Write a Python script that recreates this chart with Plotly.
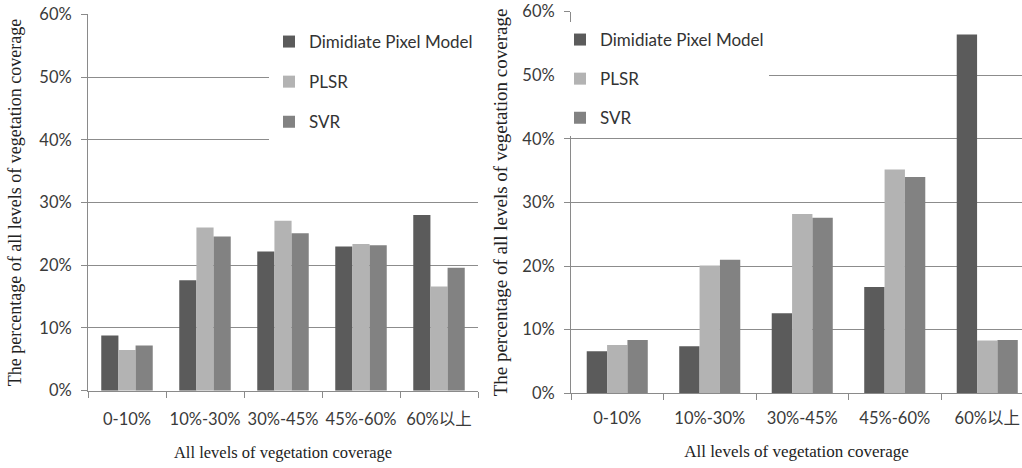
import plotly.graph_objects as go

# Vegetation coverage classes
categories = ["0-10%", "10%-30%", "30%-45%", "45%-60%", "60%以上"]

# Share of each coverage class (%), left panel
left_dimidiate = [8.8, 17.6, 22.2, 23.0, 28.0]
left_plsr = [6.5, 26.0, 27.1, 23.4, 16.6]
left_svr = [7.2, 24.6, 25.1, 23.2, 19.6]

# Share of each coverage class (%), right panel
right_dimidiate = [6.6, 7.4, 12.6, 16.7, 56.4]
right_plsr = [7.6, 20.1, 28.2, 35.2, 8.3]
right_svr = [8.4, 21.0, 27.6, 34.0, 8.4]

series_names = ["Dimidiate Pixel Model", "PLSR", "SVR"]
series_colors = ["#5b5b5b", "#b3b3b3", "#828282"]

y_ticks = [0, 10, 20, 30, 40, 50, 60]
y_tick_labels = ["0%", "10%", "20%", "30%", "40%", "50%", "60%"]

W, H = 1022, 468
SANS = "Lato, 'Noto Sans CJK SC', sans-serif"
SERIF = "'Liberation Serif', 'Times New Roman', serif"

fig = go.Figure()

for name, color, vals in zip(series_names, series_colors,
                             [left_dimidiate, left_plsr, left_svr]):
    fig.add_trace(go.Bar(x=categories, y=vals, name=name, marker_color=color,
                         marker_line_width=0, xaxis="x", yaxis="y",
                         legend="legend", legendgroup="L" + name))

for name, color, vals in zip(series_names, series_colors,
                             [right_dimidiate, right_plsr, right_svr]):
    fig.add_trace(go.Bar(x=categories, y=vals, name=name, marker_color=color,
                         marker_line_width=0, xaxis="x2", yaxis="y2",
                         legend="legend2", legendgroup="R" + name))

axis_common = dict(
    showline=True, linecolor="#8a8a8a", linewidth=1, automargin=False,
    ticks="outside", ticklen=6, tickcolor="#8a8a8a",
    tickfont=dict(family=SANS, size=16.5, color="#3a3a3a"),
)

x_common = dict(
    axis_common, type="category", tickson="boundaries",
    showgrid=False, ticklabelstandoff=10, tickangle=0,
    title_text="All levels of vegetation coverage", title_standoff=18,
)

y_common = dict(
    axis_common, range=[0, 60], tickmode="array", tickvals=y_ticks,
    ticktext=y_tick_labels,
    showgrid=True, gridcolor="#8c8c8c", gridwidth=1, zeroline=False,
    ticklabelstandoff=6,
    title_text="The percentage of all levels of vegetation coverage",
)

# Right panel's category axis runs off the page edge
right_cat_width = 92.5
right_left_px = 571

legend_font = dict(family=SANS, size=17, color="#333333")

fig.update_layout(
    width=W, height=H,
    margin=dict(l=0, r=0, t=0, b=0, autoexpand=False),
    paper_bgcolor="white", plot_bgcolor="white",
    barmode="group", bargap=0.34, bargroupgap=0,
    showlegend=True,
    xaxis=dict(x_common, domain=[88 / W, 478 / W], anchor="y",
               range=[-0.5, 4.5], ticklabelstandoff=13,
               title_font=dict(family=SERIF, size=16.5, color="#222222")),
    yaxis=dict(y_common, domain=[(H - 390.7) / H, (H - 14.3) / H],
               anchor="x", title_standoff=13,
               title_font=dict(family=SERIF, size=18, color="#222222")),
    xaxis2=dict(x_common, domain=[right_left_px / W, 1.0], anchor="y2",
                range=[-0.5, -0.5 + (W - right_left_px) / right_cat_width],
                title_font=dict(family=SERIF, size=17, color="#222222")),
    yaxis2=dict(y_common, domain=[(H - 393.3) / H, (H - 11.7) / H],
                anchor="x2", title_standoff=9,
                title_font=dict(family=SERIF, size=19, color="#222222")),
    legend=dict(x=269 / W, xanchor="left", y=(H - 24) / H, yanchor="top",
                bgcolor="white", tracegroupgap=15, font=legend_font,
                traceorder="grouped"),
    legend2=dict(x=560 / W, xanchor="left", y=(H - 22) / H, yanchor="top",
                 bgcolor="white", tracegroupgap=14, font=legend_font,
                 traceorder="grouped"),
)

fig.write_html("out.html")
